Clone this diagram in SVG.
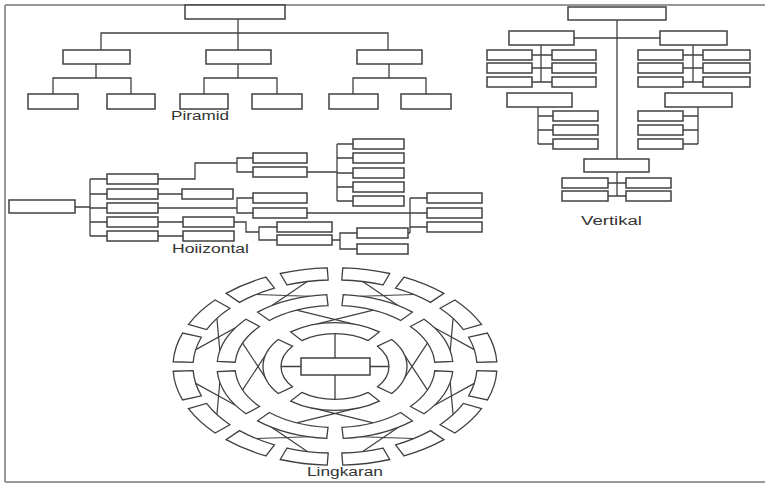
<svg xmlns="http://www.w3.org/2000/svg" xmlns:xlink="http://www.w3.org/1999/xlink" width="765" height="483" viewBox="0 0 765 483">
<style>
.b{fill:#fff;stroke:#404040;stroke-width:1.5}
.c{fill:none;stroke:#404040;stroke-width:1.3}
.s{fill:#fff;stroke:#404040;stroke-width:1.3;vector-effect:non-scaling-stroke}
.x{fill:none;stroke:#404040;stroke-width:1.2;vector-effect:non-scaling-stroke}
.t{font-family:"Liberation Sans",Arial,sans-serif;font-size:12px;fill:#333}
.f{fill:none;stroke:#999;stroke-width:2}
</style>
<defs>
<path id="s1" class="s" d="M56.74,-44.33 A72,72 0 0 1 56.74,44.33 L42.55,33.25 A54,54 0 0 0 42.55,-33.25 Z"/>
<path id="s2" class="s" d="M111.90,-37.44 A118,118 0 0 1 111.90,37.44 L94.83,31.73 A100,100 0 0 0 94.83,-31.73 Z"/>
<path id="s3" class="s" d="M160.22,-23.95 A162,162 0 0 1 160.22,23.95 L140.44,20.99 A142,142 0 0 0 140.44,-20.99 Z"/>
<path id="x1" class="x" d="M69.55,18.63 L92.39,-38.27 M69.55,-18.63 L92.39,38.27"/>
<path id="x2" class="x" d="M116.21,20.49 L139.27,-27.70 M116.21,-20.49 L139.27,27.70"/>
</defs>
<rect width="765" height="483" fill="#fff"/>
<path class="f" d="M5 5H765 M5 5V482 M5 482H765"/>

<g id="connectors">
<path class="c" d="M238 19V50 M101 50V33H388V50 M96 64V78 M53 94V78H131V94 M238 64V78 M204 94V78H277V94 M389 64V78 M353 94V78H426V94"/>
<path class="c" d="M617 20V159 M574 38H660 M541 45V82 M532 55H552 M532 68H552 M532 82H552 M693 45V82 M683 55H703 M683 68H703 M683 82H703 M538 107V144 M538 116H553 M538 130H553 M538 144H553 M698 107V144 M683 116H698 M683 130H698 M683 144H698 M617 172V196 M608 183H626 M608 196H626"/>
<path class="c" d="M75 207H90 M90 179V236 M90 179H107 M90 194H107 M90 208H107 M90 222H107 M90 236H107 M158 179H195V163H237 M253 158H237V172H253 M307 172H337 M337 144V201 M337 144H353 M337 158H353 M337 173H353 M337 187H353 M337 201H353 M158 194H182 M158 208H237 M253 198H237V213H253 M307 213H427 M410 198V233 M410 198H427 M410 227H427 M408 233H410 M158 222H183 M234 222H246V232H259 M277 227H259V240H277 M332 240H340 M357 233H340V249H357 M158 236H183"/>
<path class="c" d="M335 358V333.6 M335 375V399.4 M301 366.5H281 M370 366.5H389"/>
<g transform="translate(335,366.5) scale(1,0.61)">
<use xlink:href="#x1" href="#x1"/>
<use xlink:href="#x1" href="#x1" transform="rotate(90)"/>
<use xlink:href="#x1" href="#x1" transform="rotate(180)"/>
<use xlink:href="#x1" href="#x1" transform="rotate(270)"/>
<use xlink:href="#x2" href="#x2" transform="rotate(22.5)"/>
<use xlink:href="#x2" href="#x2" transform="rotate(67.5)"/>
<use xlink:href="#x2" href="#x2" transform="rotate(112.5)"/>
<use xlink:href="#x2" href="#x2" transform="rotate(157.5)"/>
<use xlink:href="#x2" href="#x2" transform="rotate(202.5)"/>
<use xlink:href="#x2" href="#x2" transform="rotate(247.5)"/>
<use xlink:href="#x2" href="#x2" transform="rotate(292.5)"/>
<use xlink:href="#x2" href="#x2" transform="rotate(337.5)"/>
</g>
</g>

<g id="p-root"><rect class="b" x="185" y="5" width="100" height="14"/></g>
<g id="p-a"><rect class="b" x="63" y="50" width="67" height="14"/></g>
<g id="p-b"><rect class="b" x="206" y="50" width="65" height="14"/></g>
<g id="p-c"><rect class="b" x="357" y="50" width="65" height="14"/></g>
<g id="p-a1"><rect class="b" x="28" y="94" width="50" height="15"/></g>
<g id="p-a2"><rect class="b" x="107" y="94" width="48" height="15"/></g>
<g id="p-b1"><rect class="b" x="180" y="94" width="48" height="15"/></g>
<g id="p-b2"><rect class="b" x="252" y="94" width="50" height="15"/></g>
<g id="p-c1"><rect class="b" x="329" y="94" width="49" height="15"/></g>
<g id="p-c2"><rect class="b" x="401" y="94" width="50" height="15"/></g>
<text class="t" x="171" y="120" textLength="58" lengthAdjust="spacingAndGlyphs">Piramid</text>

<g id="v-root"><rect class="b" x="568" y="7" width="98" height="13"/></g>
<g id="v-l"><rect class="b" x="509" y="31" width="65" height="14"/></g>
<g id="v-r"><rect class="b" x="660" y="31" width="67" height="14"/></g>
<g id="v-l1"><rect class="b" x="487" y="50" width="45" height="10"/></g>
<g id="v-l2"><rect class="b" x="487" y="63" width="45" height="10"/></g>
<g id="v-l3"><rect class="b" x="487" y="77" width="45" height="10"/></g>
<g id="v-l4"><rect class="b" x="552" y="50" width="44" height="10"/></g>
<g id="v-l5"><rect class="b" x="552" y="63" width="44" height="10"/></g>
<g id="v-l6"><rect class="b" x="552" y="77" width="44" height="10"/></g>
<g id="v-r1"><rect class="b" x="638" y="50" width="45" height="10"/></g>
<g id="v-r2"><rect class="b" x="638" y="63" width="45" height="10"/></g>
<g id="v-r3"><rect class="b" x="638" y="77" width="45" height="10"/></g>
<g id="v-r4"><rect class="b" x="703" y="50" width="47" height="10"/></g>
<g id="v-r5"><rect class="b" x="703" y="63" width="47" height="10"/></g>
<g id="v-r6"><rect class="b" x="703" y="77" width="47" height="10"/></g>
<g id="v-lb"><rect class="b" x="507" y="93" width="65" height="14"/></g>
<g id="v-rb"><rect class="b" x="665" y="93" width="67" height="14"/></g>
<g id="v-lb1"><rect class="b" x="553" y="111" width="45" height="10"/></g>
<g id="v-lb2"><rect class="b" x="553" y="125" width="45" height="10"/></g>
<g id="v-lb3"><rect class="b" x="553" y="139" width="45" height="10"/></g>
<g id="v-rb1"><rect class="b" x="638" y="111" width="45" height="10"/></g>
<g id="v-rb2"><rect class="b" x="638" y="125" width="45" height="10"/></g>
<g id="v-rb3"><rect class="b" x="638" y="139" width="45" height="10"/></g>
<g id="v-bot"><rect class="b" x="584" y="159" width="65" height="13"/></g>
<g id="v-bot1"><rect class="b" x="562" y="178" width="46" height="10"/></g>
<g id="v-bot2"><rect class="b" x="562" y="191" width="46" height="10"/></g>
<g id="v-bot3"><rect class="b" x="626" y="178" width="45" height="10"/></g>
<g id="v-bot4"><rect class="b" x="626" y="191" width="45" height="10"/></g>
<text class="t" x="581" y="225" textLength="61" lengthAdjust="spacingAndGlyphs">Vertikal</text>

<g id="h-root"><rect class="b" x="9" y="200" width="66" height="13"/></g>
<g id="h-1"><rect class="b" x="107" y="174" width="51" height="10"/></g>
<g id="h-2"><rect class="b" x="107" y="189" width="51" height="10"/></g>
<g id="h-3"><rect class="b" x="107" y="203" width="51" height="10"/></g>
<g id="h-4"><rect class="b" x="107" y="217" width="51" height="10"/></g>
<g id="h-5"><rect class="b" x="107" y="231" width="51" height="10"/></g>
<g id="h-a"><rect class="b" x="253" y="153" width="54" height="10"/></g>
<g id="h-b"><rect class="b" x="253" y="167" width="54" height="10"/></g>
<g id="h-c1"><rect class="b" x="353" y="139" width="51" height="10"/></g>
<g id="h-c2"><rect class="b" x="353" y="153" width="51" height="10"/></g>
<g id="h-c3"><rect class="b" x="353" y="168" width="51" height="10"/></g>
<g id="h-c4"><rect class="b" x="353" y="182" width="51" height="10"/></g>
<g id="h-c5"><rect class="b" x="353" y="196" width="51" height="10"/></g>
<g id="h-r2"><rect class="b" x="182" y="189" width="51" height="10"/></g>
<g id="h-d"><rect class="b" x="253" y="193" width="54" height="10"/></g>
<g id="h-e"><rect class="b" x="253" y="208" width="54" height="10"/></g>
<g id="h-f1"><rect class="b" x="427" y="193" width="55" height="10"/></g>
<g id="h-f2"><rect class="b" x="427" y="208" width="55" height="10"/></g>
<g id="h-f3"><rect class="b" x="427" y="222" width="55" height="10"/></g>
<g id="h-g"><rect class="b" x="183" y="217" width="51" height="10"/></g>
<g id="h-h1"><rect class="b" x="277" y="222" width="55" height="10"/></g>
<g id="h-h2"><rect class="b" x="277" y="235" width="55" height="10"/></g>
<g id="h-i1"><rect class="b" x="357" y="228" width="51" height="10"/></g>
<g id="h-i2"><rect class="b" x="357" y="244" width="51" height="10"/></g>
<g id="h-j"><rect class="b" x="183" y="231" width="51" height="10"/></g>
<text class="t" x="172" y="253" textLength="77" lengthAdjust="spacingAndGlyphs">Hoiizontal</text>

<g id="l-center"><rect class="b" x="301" y="358" width="69" height="17"/></g>
<g transform="translate(335,366.5) scale(1,0.61)">
<g id="l1-0"><use xlink:href="#s1" href="#s1"/></g>
<g id="l1-1"><use xlink:href="#s1" href="#s1" transform="rotate(90)"/></g>
<g id="l1-2"><use xlink:href="#s1" href="#s1" transform="rotate(180)"/></g>
<g id="l1-3"><use xlink:href="#s1" href="#s1" transform="rotate(270)"/></g>
<g id="l2-0"><use xlink:href="#s2" href="#s2" transform="rotate(22.5)"/></g>
<g id="l2-1"><use xlink:href="#s2" href="#s2" transform="rotate(67.5)"/></g>
<g id="l2-2"><use xlink:href="#s2" href="#s2" transform="rotate(112.5)"/></g>
<g id="l2-3"><use xlink:href="#s2" href="#s2" transform="rotate(157.5)"/></g>
<g id="l2-4"><use xlink:href="#s2" href="#s2" transform="rotate(202.5)"/></g>
<g id="l2-5"><use xlink:href="#s2" href="#s2" transform="rotate(247.5)"/></g>
<g id="l2-6"><use xlink:href="#s2" href="#s2" transform="rotate(292.5)"/></g>
<g id="l2-7"><use xlink:href="#s2" href="#s2" transform="rotate(337.5)"/></g>
<g id="l3-0"><use xlink:href="#s3" href="#s3" transform="rotate(11.25)"/></g>
<g id="l3-1"><use xlink:href="#s3" href="#s3" transform="rotate(33.75)"/></g>
<g id="l3-2"><use xlink:href="#s3" href="#s3" transform="rotate(56.25)"/></g>
<g id="l3-3"><use xlink:href="#s3" href="#s3" transform="rotate(78.75)"/></g>
<g id="l3-4"><use xlink:href="#s3" href="#s3" transform="rotate(101.25)"/></g>
<g id="l3-5"><use xlink:href="#s3" href="#s3" transform="rotate(123.75)"/></g>
<g id="l3-6"><use xlink:href="#s3" href="#s3" transform="rotate(146.25)"/></g>
<g id="l3-7"><use xlink:href="#s3" href="#s3" transform="rotate(168.75)"/></g>
<g id="l3-8"><use xlink:href="#s3" href="#s3" transform="rotate(191.25)"/></g>
<g id="l3-9"><use xlink:href="#s3" href="#s3" transform="rotate(213.75)"/></g>
<g id="l3-10"><use xlink:href="#s3" href="#s3" transform="rotate(236.25)"/></g>
<g id="l3-11"><use xlink:href="#s3" href="#s3" transform="rotate(258.75)"/></g>
<g id="l3-12"><use xlink:href="#s3" href="#s3" transform="rotate(281.25)"/></g>
<g id="l3-13"><use xlink:href="#s3" href="#s3" transform="rotate(303.75)"/></g>
<g id="l3-14"><use xlink:href="#s3" href="#s3" transform="rotate(326.25)"/></g>
<g id="l3-15"><use xlink:href="#s3" href="#s3" transform="rotate(348.75)"/></g>
</g>
<text class="t" x="307" y="476" textLength="76" lengthAdjust="spacingAndGlyphs">Lingkaran</text>
</svg>
